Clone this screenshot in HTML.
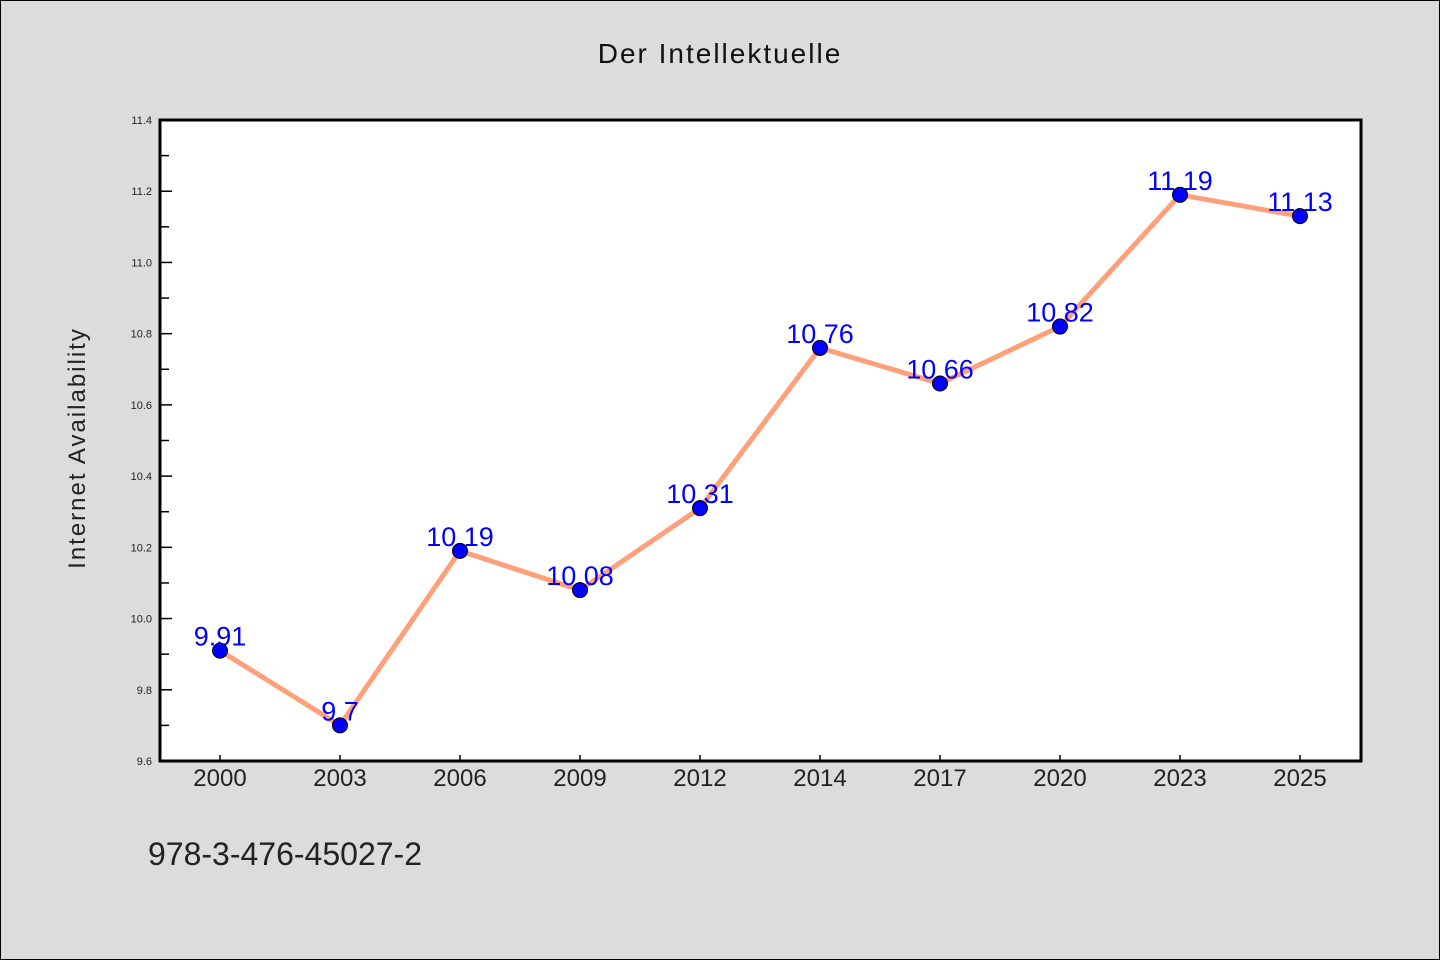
<!DOCTYPE html>
<html><head><meta charset="utf-8"><style>
html,body{margin:0;padding:0;background:#dcdcdc;}
svg{display:block;font-family:"WenQuanYi Zen Hei","Liberation Sans",sans-serif;}
</style></head><body>
<svg id="chart" width="1440" height="960">
<rect x="0.5" y="0.5" width="1439" height="959" fill="#dcdcdc" stroke="#000"/>
<text x="720" y="63" text-anchor="middle" font-size="28" fill="#111" letter-spacing="2">Der Intellektuelle</text>
<rect x="160" y="120" width="1201" height="641" fill="#fff"/>
<g id="yaxis"></g><g id="xaxis"></g><g id="series"></g>
<rect x="160" y="120" width="1201" height="641" fill="none" stroke="#000" stroke-width="3"/>
<text transform="translate(85,448) rotate(-90)" text-anchor="middle" font-size="24" fill="#222" letter-spacing="2">Internet Availability</text>
<text x="148" y="865" font-size="32" fill="#222">978-3-476-45027-2</text>
</svg>
<script>
const categories=["2000","2003","2006","2009","2012","2014","2017","2020","2023","2025"];
const values=[9.91,9.7,10.19,10.08,10.31,10.76,10.66,10.82,11.19,11.13];
const labels=["9.91","9.7","10.19","10.08","10.31","10.76","10.66","10.82","11.19","11.13"];
const yTicks=["9.6","9.8","10.0","10.2","10.4","10.6","10.8","11.0","11.2","11.4"];
const NS="http://www.w3.org/2000/svg";
const L=160,R=1361,T=120,B=761,ymin=9.6,ymax=11.4;
const yS=v=>B-(v-ymin)/(ymax-ymin)*(B-T);
const xS=i=>L+60+i*(R-L-1)/categories.length;
function mk(p,tag,at){const e=document.createElementNS(NS,tag);for(const k in at)e.setAttribute(k,at[k]);p.appendChild(e);return e;}
const ya=document.getElementById('yaxis'),xa=document.getElementById('xaxis'),sg=document.getElementById('series');
yTicks.forEach((t,i)=>{const y=yS(parseFloat(t));
 const ln=mk(ya,'line',{x1:L,x2:L+12,y1:y,y2:y,stroke:'#000','stroke-width':1.5});
 
 
 const tx=mk(ya,'text',{x:L-8,y:y+4,'text-anchor':'end','font-size':11,fill:'#222'});tx.textContent=t;
 
 
 if(i<yTicks.length-1){const ym=yS(parseFloat(t)+0.1);
  const mn=mk(ya,'line',{x1:L,x2:L+9,y1:ym,y2:ym,stroke:'#000','stroke-width':1.5});
  
  }
});
categories.forEach((c,i)=>{const x=xS(i);
 const ln=mk(xa,'line',{x1:x,x2:x,y1:B,y2:B-6,stroke:'#000','stroke-width':1.5});
 
 
 const tx=mk(xa,'text',{x:x,y:B+25,'text-anchor':'middle','font-size':24,fill:'#222'});tx.textContent=c;
 
 
});
const pl=mk(sg,'polyline',{points:values.map((v,i)=>xS(i)+','+yS(v)).join(' '),fill:'none',stroke:'#ffa07a','stroke-width':5,'stroke-linejoin':'round'});


values.forEach((v,i)=>{
 const tx=mk(sg,'text',{x:xS(i),y:yS(v)-5,'text-anchor':'middle','font-size':27,fill:'#0000ff'});tx.textContent=labels[i];
 
 
});
values.forEach((v,i)=>{
 const c=mk(sg,'circle',{cx:xS(i),cy:yS(v),r:7.5,fill:'#0000ff',stroke:'#000','stroke-width':1});
 
 
});
</script>
</body></html>
